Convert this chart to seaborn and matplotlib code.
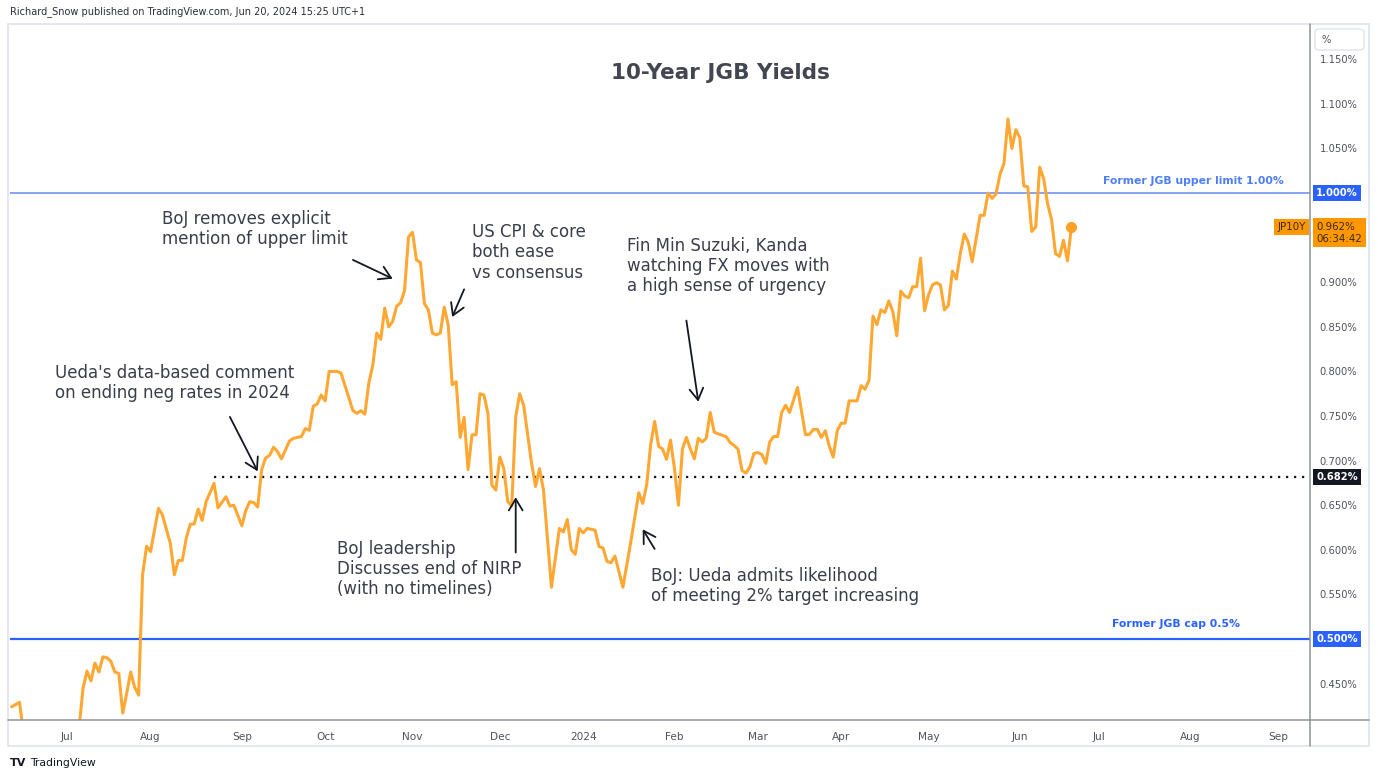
import numpy as np
import pandas as pd
import matplotlib
matplotlib.use("Agg")
import matplotlib.pyplot as plt
import seaborn as sns
from matplotlib.transforms import blended_transform_factory
from matplotlib.patches import Rectangle, FancyBboxPatch
from matplotlib.lines import Line2D

# ---------------- data ----------------
dates = [
    '2023-06-13', '2023-06-15', '2023-06-16', '2023-06-26',
    '2023-07-06', '2023-07-07', '2023-07-10', '2023-07-11', '2023-07-12', '2023-07-13', '2023-07-14',
    '2023-07-17', '2023-07-18', '2023-07-19', '2023-07-20', '2023-07-21',
    '2023-07-24', '2023-07-25', '2023-07-26', '2023-07-27', '2023-07-28',
    '2023-07-31', '2023-08-01', '2023-08-03', '2023-08-04',
    '2023-08-08', '2023-08-09', '2023-08-10', '2023-08-11',
    '2023-08-14', '2023-08-15', '2023-08-16', '2023-08-17', '2023-08-18',
    '2023-08-21', '2023-08-23', '2023-08-24',
    '2023-08-28', '2023-08-29', '2023-08-30', '2023-09-01',
    '2023-09-04', '2023-09-05', '2023-09-06', '2023-09-07', '2023-09-08',
    '2023-09-11', '2023-09-12', '2023-09-13', '2023-09-14', '2023-09-15',
    '2023-09-19', '2023-09-20', '2023-09-22',
    '2023-09-25', '2023-09-26', '2023-09-27', '2023-09-28', '2023-09-29',
    '2023-10-02', '2023-10-03', '2023-10-05', '2023-10-06',
    '2023-10-11', '2023-10-12', '2023-10-13',
    '2023-10-16', '2023-10-17', '2023-10-18', '2023-10-19', '2023-10-20',
    '2023-10-23', '2023-10-24', '2023-10-25', '2023-10-26', '2023-10-27',
    '2023-10-30', '2023-10-31', '2023-11-01', '2023-11-02', '2023-11-03',
    '2023-11-06', '2023-11-07', '2023-11-08', '2023-11-09', '2023-11-10',
    '2023-11-13', '2023-11-14', '2023-11-15', '2023-11-16', '2023-11-17',
    '2023-11-20', '2023-11-21', '2023-11-22', '2023-11-23', '2023-11-24',
    '2023-11-27', '2023-11-28', '2023-11-29', '2023-11-30', '2023-12-01',
    '2023-12-04', '2023-12-05', '2023-12-06', '2023-12-07', '2023-12-08',
    '2023-12-11', '2023-12-13', '2023-12-14', '2023-12-15',
    '2023-12-18', '2023-12-20', '2023-12-22',
    '2023-12-25', '2023-12-26', '2023-12-27', '2023-12-28', '2023-12-29',
    '2024-01-01', '2024-01-02', '2024-01-04', '2024-01-05',
    '2024-01-08', '2024-01-09', '2024-01-10', '2024-01-11',
    '2024-01-15', '2024-01-17', '2024-01-19',
    '2024-01-22', '2024-01-23', '2024-01-24', '2024-01-25', '2024-01-26',
    '2024-01-29', '2024-01-30', '2024-01-31', '2024-02-01', '2024-02-02',
    '2024-02-05', '2024-02-06', '2024-02-07', '2024-02-08', '2024-02-09',
    '2024-02-12', '2024-02-13', '2024-02-14', '2024-02-15', '2024-02-16',
    '2024-02-20', '2024-02-21', '2024-02-22', '2024-02-23',
    '2024-02-26', '2024-02-27', '2024-02-28', '2024-02-29', '2024-03-01',
    '2024-03-04', '2024-03-05', '2024-03-06', '2024-03-07', '2024-03-08',
    '2024-03-11', '2024-03-12', '2024-03-13', '2024-03-15',
    '2024-03-19', '2024-03-20', '2024-03-21', '2024-03-22',
    '2024-03-25', '2024-03-26', '2024-03-27', '2024-03-28', '2024-03-29',
    '2024-04-01', '2024-04-02', '2024-04-03', '2024-04-05',
    '2024-04-08', '2024-04-09', '2024-04-10', '2024-04-11', '2024-04-12',
    '2024-04-15', '2024-04-16', '2024-04-17', '2024-04-18', '2024-04-19',
    '2024-04-22', '2024-04-23', '2024-04-24', '2024-04-25', '2024-04-26',
    '2024-04-29', '2024-04-30', '2024-05-01', '2024-05-02', '2024-05-03',
    '2024-05-06', '2024-05-07', '2024-05-08', '2024-05-09', '2024-05-10',
    '2024-05-13', '2024-05-14', '2024-05-15', '2024-05-16',
    '2024-05-20', '2024-05-21', '2024-05-22', '2024-05-23', '2024-05-24',
    '2024-05-27', '2024-05-28', '2024-05-29', '2024-05-30', '2024-05-31',
    '2024-06-03', '2024-06-04', '2024-06-05', '2024-06-06', '2024-06-07',
    '2024-06-10', '2024-06-11', '2024-06-12', '2024-06-13', '2024-06-14',
    '2024-06-17', '2024-06-18', '2024-06-19', '2024-06-20',
]

yields = [
    0.424, 0.429, 0.395, 0.370,
    0.400, 0.445, 0.464, 0.453, 0.473, 0.463, 0.480,
    0.479, 0.475, 0.463, 0.4615, 0.417,
    0.439, 0.463, 0.446, 0.437, 0.572,
    0.604, 0.598, 0.6465, 0.639,
    0.607, 0.572, 0.588, 0.588,
    0.613, 0.6286, 0.629, 0.6457, 0.633,
    0.654, 0.6745, 0.647,
    0.6595, 0.649, 0.650, 0.627,
    0.644, 0.654, 0.653, 0.648, 0.690,
    0.703, 0.706, 0.715, 0.710, 0.702,
    0.722, 0.725, 0.727,
    0.736, 0.734, 0.761, 0.7635, 0.7735,
    0.767, 0.800, 0.800, 0.798,
    0.756, 0.753, 0.756,
    0.752, 0.787, 0.807, 0.843, 0.836,
    0.871, 0.850, 0.856, 0.873, 0.877,
    0.891, 0.951, 0.956, 0.925, 0.922,
    0.876, 0.869, 0.843, 0.841, 0.843,
    0.872, 0.852, 0.785, 0.7885, 0.726,
    0.7485, 0.690, 0.729, 0.729, 0.775,
    0.7735, 0.753, 0.6726, 0.667, 0.704,
    0.691, 0.654, 0.649, 0.749, 0.775,
    0.762, 0.697, 0.671, 0.691,
    0.667, 0.558, 0.624,
    0.620, 0.634, 0.600, 0.595, 0.624,
    0.619, 0.624, 0.622, 0.6035,
    0.602, 0.587, 0.5855, 0.593,
    0.558, 0.609, 0.664,
    0.652, 0.673, 0.718, 0.744, 0.716,
    0.713, 0.7015, 0.723, 0.691, 0.650,
    0.713, 0.726, 0.713, 0.702, 0.725,
    0.721, 0.725, 0.754, 0.732, 0.730,
    0.727, 0.7205, 0.717, 0.713,
    0.689, 0.686, 0.693, 0.708, 0.709,
    0.707, 0.697, 0.721, 0.727, 0.727,
    0.754, 0.762, 0.754, 0.782,
    0.729, 0.7295, 0.735, 0.735,
    0.726, 0.7335, 0.716, 0.704, 0.7335,
    0.742, 0.742, 0.767, 0.767,
    0.784, 0.780, 0.790, 0.862, 0.8525,
    0.869, 0.866, 0.879, 0.867, 0.840,
    0.890, 0.8845, 0.8826, 0.895, 0.895,
    0.927, 0.868, 0.886, 0.897, 0.8995,
    0.897, 0.869, 0.874, 0.9125, 0.9036,
    0.932, 0.954, 0.945, 0.923,
    0.975, 0.975, 1.000, 0.994, 0.999,
    1.021, 1.033, 1.083, 1.050, 1.071,
    1.062, 1.008, 1.007, 0.957, 0.962,
    1.029, 1.016, 0.988, 0.970, 0.932,
    0.929, 0.947, 0.924, 0.962,
]

month_starts = ['2023-07-01', '2023-08-01', '2023-09-01', '2023-10-01', '2023-11-01',
                '2023-12-01', '2024-01-01', '2024-02-01', '2024-03-01', '2024-04-01',
                '2024-05-01', '2024-06-01', '2024-07-01', '2024-08-01', '2024-09-01']
month_labels = ['Jul', 'Aug', 'Sep', 'Oct', 'Nov', 'Dec', '2024', 'Feb', 'Mar', 'Apr',
                'May', 'Jun', 'Jul', 'Aug', 'Sep']
price_ticks = [0.45, 0.55, 0.60, 0.65, 0.70, 0.75, 0.80, 0.85, 0.90, 1.05, 1.10, 1.15]

upper_limit = 1.00
jgb_cap = 0.50
ref_level = 0.682
ref_start = '2023-08-23'
symbol = 'JP10Y'
countdown = '06:34:42'

title = '10-Year JGB Yields'
header = 'Richard_Snow published on TradingView.com, Jun 20, 2024 15:25 UTC+1'

# annotations: (text, date of text, value of text top)
notes = [
    ("BoJ removes explicit\nmention of upper limit", '2023-08-04', 0.981),
    ("US CPI & core\nboth ease\nvs consensus", '2023-11-22', 0.966),
    ("Fin Min Suzuki, Kanda\nwatching FX moves with\na high sense of urgency", '2024-01-16', 0.951),
    ("Ueda's data-based comment\non ending neg rates in 2024", '2023-06-28', 0.808),
    ("BoJ leadership\nDiscusses end of NIRP\n(with no timelines)", '2023-10-05', 0.611),
    ("BoJ: Ueda admits likelihood\nof meeting 2% target increasing", '2024-01-24', 0.581),
]
# arrows: (tail date, tail value, tip date, tip value)
arrows = [
    ('2023-10-11', 0.925, '2023-10-25', 0.904),
    ('2023-11-20', 0.892, '2023-11-15', 0.861),
    ('2023-12-07', 0.597, '2023-12-07', 0.659),
    ('2024-02-06', 0.857, '2024-02-09', 0.766),
    ('2024-01-25', 0.601, '2024-01-22', 0.623),
    ('2023-08-29', 0.749, '2023-09-07', 0.688),
]

# ---------------- styling ----------------
sns.set_theme(style="white")
plt.rcParams['font.family'] = ['DejaVu Sans']

W, H = 1378, 779
fig = plt.figure(figsize=(W / 100, H / 100), dpi=100)
fig.patch.set_facecolor('white')

def fx(x):
    return x / W

def fy(y):
    return 1 - y / H

ax = fig.add_axes([fx(10), fy(720), fx(1310) - fx(10), fy(25) - fy(720)])
ax.set_facecolor('white')

base = '2023-07-03'

def bar_of(d):
    return np.busday_count(base, np.array(d, dtype='datetime64[D]'))

bars = bar_of(dates)
df = pd.DataFrame({'bar': bars, 'yield': yields})

line_color = '#ffa733'
sns.lineplot(data=df, x='bar', y='yield', ax=ax, color=line_color, linewidth=2.2,
             estimator=None, sort=False)
ax.plot([bars[-1]], [yields[-1]], 'o', color='#ffa126', ms=7, zorder=5)

ax.set_xlim(-14.4, 313.1)
ax.set_ylim(0.4092, 1.1884)
ax.set_xlabel('')
ax.set_ylabel('')

# reference lines
ax.axhline(upper_limit, color='#6f92f7', lw=1.2, zorder=1)
ax.axhline(jgb_cap, color='#2962ff', lw=1.6, zorder=1)
ax.hlines(ref_level, bar_of(ref_start), 313.1, colors='#131722', lw=1.6,
          linestyles=(0, (1, 2.6)), zorder=1)

ax.text(306.5, upper_limit + 0.0135, 'Former JGB upper limit 1.00%', ha='right', va='center',
        color='#4d7ef5', fontsize=7.8, fontweight='bold')
ax.text(295.5, jgb_cap + 0.0165, 'Former JGB cap 0.5%', ha='right', va='center',
        color='#2962ff', fontsize=7.8, fontweight='bold')

# axes ticks
ax.yaxis.tick_right()
ax.set_yticks(price_ticks)
ax.set_yticklabels([f'{v:.3f}%' for v in price_ticks])
ax.tick_params(axis='y', length=0, pad=7, labelsize=7.2, labelcolor='#50535e')
tick_bars = np.busday_count(base, np.busday_offset(np.array(month_starts, dtype='datetime64[D]'),
                                                   0, roll='forward'))
ax.set_xticks(tick_bars)
ax.set_xticklabels(month_labels)
ax.tick_params(axis='x', length=0, pad=9, labelsize=7.6, labelcolor='#50535e')
ax.grid(False)
for s in ['left', 'top', 'right', 'bottom']:
    ax.spines[s].set_visible(False)

# price-axis badges
trans = blended_transform_factory(ax.transAxes, ax.transData)

def badge(val, text, fc, tc):
    ax.annotate(text, xy=(1, val), xycoords=trans, xytext=(4.5, 0), textcoords='offset points',
                ha='left', va='center', fontsize=7.2, color=tc, fontweight='bold',
                bbox=dict(boxstyle='square,pad=0.3', fc=fc, ec='none'),
                annotation_clip=False, zorder=10)

badge(upper_limit, '1.000%', '#2962ff', 'white')
badge(jgb_cap, '0.500%', '#2962ff', 'white')
badge(ref_level, f'{ref_level:.3f}%', '#131722', 'white')
last = yields[-1]
ax.annotate(f'{last:.3f}%\n{countdown}', xy=(1, last), xycoords=trans, xytext=(4.5, 3.5),
            textcoords='offset points', ha='left', va='top', fontsize=7.4, color='#3a2a00',
            linespacing=1.2, bbox=dict(boxstyle='square,pad=0.35', fc='#ff9800', ec='none'),
            annotation_clip=False, zorder=10)
ax.annotate(symbol, xy=(1, last), xycoords=trans, xytext=(-3, 0), textcoords='offset points',
            ha='right', va='center', fontsize=7.4, color='#3a2a00',
            bbox=dict(boxstyle='square,pad=0.3', fc='#ff9800', ec='none'),
            annotation_clip=False, zorder=10)

# annotations
note_color = '#3b3e4a'
for text, d, v in notes:
    ax.text(bar_of(d), v, text, ha='left', va='top', fontsize=12, color=note_color,
            linespacing=1.15)

for d0, v0, d1, v1 in arrows:
    ax.annotate('', xy=(bar_of(d1), v1), xytext=(bar_of(d0), v0),
                arrowprops=dict(arrowstyle='->,head_length=0.55,head_width=0.33',
                                color='#131722', lw=1.3, mutation_scale=15,
                                shrinkA=0, shrinkB=0))

# title
ax.text(bar_of('2024-02-16') + 0.5, 1.1345, title, ha='center',
        va='center', fontsize=15.5, fontweight='bold', color='#434651')

# chart frame
frame_c = '#e0e3eb'
fig.add_artist(Rectangle((fx(8), fy(746)), fx(1369) - fx(8), fy(24) - fy(746),
                         transform=fig.transFigure, fill=False, ec=frame_c, lw=1.2))
axis_c = '#8f929b'
fig.add_artist(Line2D([fx(1310), fx(1310)], [fy(24), fy(746)], transform=fig.transFigure,
                      color=axis_c, lw=1.1))
fig.add_artist(Line2D([fx(8), fx(1369)], [fy(720), fy(720)], transform=fig.transFigure,
                      color=axis_c, lw=1.1))
fig.add_artist(FancyBboxPatch((fx(1315), fy(50)), fx(1364) - fx(1315), fy(29) - fy(50),
                              boxstyle='round,pad=0,rounding_size=0.004',
                              transform=fig.transFigure, fill=False, ec=frame_c, lw=1))
fig.text(fx(1322), fy(40), '%', ha='left', va='center', fontsize=7.2, color='#50535e')

# header and footer
fig.text(fx(10), fy(12), header, ha='left', va='center', fontsize=7.0, color='#2a2e39')
fig.text(fx(10), fy(763), 'TV', ha='left', va='center', fontsize=8, fontweight='heavy',
         color='#131722')
fig.text(fx(30), fy(763), 'TradingView', ha='left', va='center', fontsize=7.8, color='#131722')

fig.savefig('out.png', dpi=100, facecolor='white')
